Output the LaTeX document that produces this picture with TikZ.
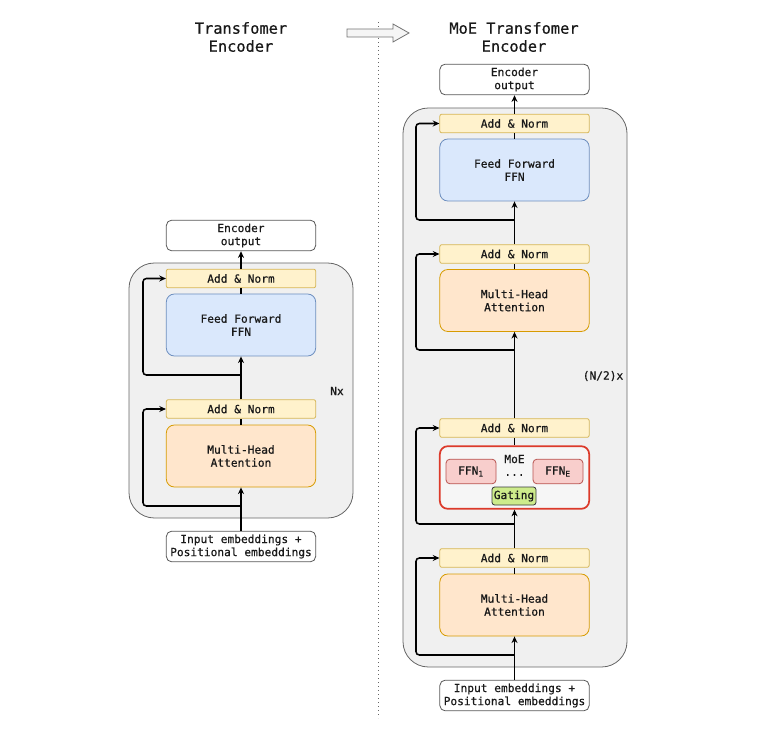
\documentclass[tikz,border=0pt]{standalone}
\usepackage{fontspec}
\setmonofont[FakeBold=0.6]{DejaVu Sans Mono}
\usetikzlibrary{arrows.meta}
\definecolor{ylwF}{HTML}{FFF2CC}\definecolor{ylwD}{HTML}{D6B656}
\definecolor{bluF}{HTML}{DAE8FC}\definecolor{bluD}{HTML}{6C8EBF}
\definecolor{orgF}{HTML}{FFE6CC}\definecolor{orgD}{HTML}{D79B00}
\definecolor{pnkF}{HTML}{F8CECC}\definecolor{pnkD}{HTML}{B85450}
\definecolor{grnF}{HTML}{CDEB8B}\definecolor{grnD}{HTML}{36393D}
\definecolor{conF}{HTML}{F0F0F0}\definecolor{conD}{HTML}{666666}
\definecolor{moeD}{HTML}{DC3A2A}
\begin{document}
\begin{tikzpicture}[x=0.75pt,y=-0.75pt,
  every node/.style={font=\ttfamily\fontsize{8.4}{9.8}\selectfont, text=black!90, inner sep=0pt, align=center},
  box/.style={draw, line width=0.6pt, minimum width=112pt},
  anbox/.style={box, fill=ylwF, draw=ylwD, minimum height=14pt, rounded corners=1.5pt},
  ffnbox/.style={box, fill=bluF, draw=bluD, minimum height=46.5pt, rounded corners=6pt},
  mhabox/.style={box, fill=orgF, draw=orgD, minimum height=46.5pt, rounded corners=6pt},
  iobox/.style={box, fill=white, draw=black!65, minimum height=23pt, rounded corners=4pt},
  container/.style={fill=conF, draw=conD, line width=0.6pt, rounded corners=19pt},
  arr/.style={-{Stealth[length=5pt,width=4.5pt]}, line width=1.15pt},
  ln/.style={line width=1.15pt},
  loop/.style={arr, rounded corners=2.5pt},
  title/.style={font=\ttfamily\fontsize{11.5}{13.5}\selectfont}
]
\useasboundingbox (0,0) rectangle (770,730);

% titles
\node[title] (t1) at (241,37) {Transfomer\\Encoder};
\node[title] (t2) at (514,37) {MoE Transfomer\\Encoder};
% separator and block arrow
\draw[black!60, line width=0.75pt, dash pattern=on 1pt off 2pt] (378,22) -- (378,718);
\draw[fill=black!4, draw=black!55, line width=0.6pt] (347,29) -- (393,29) -- (393,24) -- (409,33) -- (393,42) -- (393,37) -- (347,37) -- cycle;

% ---------- left ----------
\draw[container] (129,263) rectangle (353,518);
\node[iobox] (lout) at (241,235.5) {Encoder\\output};
\node[anbox] (lan2) at (241,278.5) {Add \& Norm};
\node[ffnbox] (lffn) at (241,325) {Feed Forward\\FFN};
\node[anbox] (lan1) at (241,409) {Add \& Norm};
\node[mhabox] (lmha) at (241,456) {Multi-Head\\Attention};
\node[iobox] (lin) at (241,546.5) {Input embeddings +\\Positional embeddings};
\node (lnx) at (337,391) {Nx};

\draw[arr] (lin.north) -- (lmha.south);
\draw[ln] (lmha.north) -- (lan1.south);
\draw[arr] (lan1.north) -- (lffn.south);
\draw[ln] (lffn.north) -- (lan2.south);
\draw[arr] (lan2.north) -- (lout.south);
\coordinate (lb1) at (241,506);
\coordinate (lb2) at (241,375);
\draw[loop] (lb1) -- (143,506) |- (lan1.west);
\draw[loop] (lb2) -- (143,375) |- (lan2.west);

% ---------- right ----------
\draw[container] (403,108) rectangle (627,667);
\node[iobox] (rout) at (514.5,79.5) {Encoder\\output};
\node[anbox] (ran4) at (514.5,123.5) {Add \& Norm};
\node[ffnbox] (rffn) at (514.5,170) {Feed Forward\\FFN};
\node[anbox] (ran3) at (514.5,254) {Add \& Norm};
\node[mhabox] (rmha2) at (514.5,300.5) {Multi-Head\\Attention};
\node (rnx) at (603,376) {(N/2)x};
\node[anbox] (ran2) at (514.5,428) {Add \& Norm};
\node[box, draw=moeD, line width=1.3pt, fill=conF!60!white, minimum height=47pt, rounded corners=6pt] (moe) at (514.5,477.5) {};
\node (moel) at (514.5,459) {MoE};
\node[fill=pnkF, draw=pnkD, line width=0.6pt, minimum width=37.5pt, minimum height=18.5pt, rounded corners=3pt] (ffn1) at (471,471.5) {FFN\textsubscript{1}};
\node[fill=pnkF, draw=pnkD, line width=0.6pt, minimum width=37.5pt, minimum height=18.5pt, rounded corners=3pt] (ffnE) at (558,471.5) {FFN\textsubscript{E}};
\node (dots) at (514.5,475) {...};
\node[fill=grnF, draw=grnD, line width=0.6pt, minimum width=33pt, minimum height=13.5pt, rounded corners=2pt] (gate) at (514,496) {Gating};
\node[anbox] (ran1) at (514.5,558) {Add \& Norm};
\node[mhabox] (rmha1) at (514.5,605) {Multi-Head\\Attention};
\node[iobox] (rin) at (514.5,695.5) {Input embeddings +\\Positional embeddings};

\draw[arr] (rin.north) -- (rmha1.south);
\draw[ln] (rmha1.north) -- (ran1.south);
\draw[arr] (ran1.north) -- (moe.south);
\draw[ln] (moe.north) -- (ran2.south);
\draw[arr] (ran2.north) -- (rmha2.south);
\draw[ln] (rmha2.north) -- (ran3.south);
\draw[arr] (ran3.north) -- (rffn.south);
\draw[ln] (rffn.north) -- (ran4.south);
\draw[arr] (ran4.north) -- (rout.south);
\coordinate (rb1) at (514.5,655);
\coordinate (rb2) at (514.5,524);
\coordinate (rb3) at (514.5,350);
\coordinate (rb4) at (514.5,220);
\draw[loop] (rb1) -- (416,655) |- (ran1.west);
\draw[loop] (rb2) -- (416,524) |- (ran2.west);
\draw[loop] (rb3) -- (416,350) |- (ran3.west);
\draw[loop] (rb4) -- (416,220) |- (ran4.west);
\end{tikzpicture}
\end{document}
